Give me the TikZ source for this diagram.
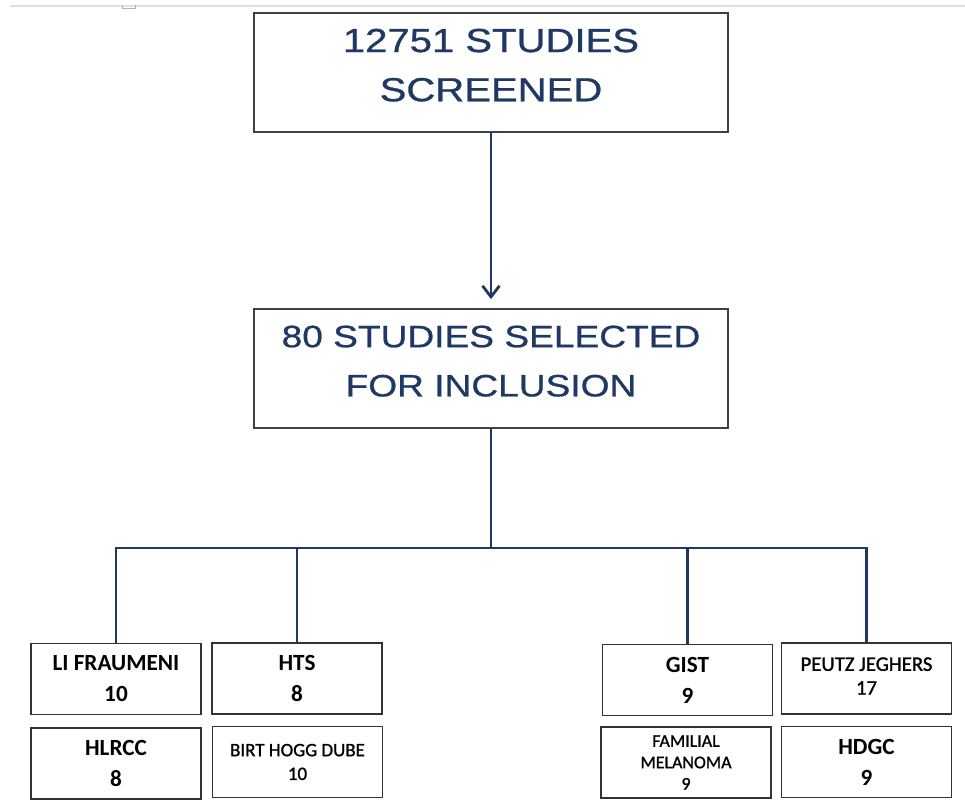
\documentclass[tikz,border=0pt]{standalone}
\usepackage{fontspec}
\setmainfont{Liberation Sans}
\newfontfamily\wideface[FakeStretch=1.2,FakeBold=0.8]{Liberation Sans}
\newfontfamily\calfont{Carlito}
\newfontfamily\calsemi[FakeBold=1.2]{Carlito}
\usetikzlibrary{arrows.meta}

\definecolor{navy}{RGB}{31,56,100}

\tikzset{
    bigbox/.style={draw=black!75, line width=1pt, minimum width=9.48cm, minimum height=2.38cm,
        align=center, text=navy, text depth=0.3cm, font=\wideface\fontsize{#1}{28}\selectfont},
    smallbox/.style={draw=black!80, line width=1pt, minimum width=3.4cm, minimum height=1.42cm,
        align=center, inner sep=0pt},
    boldtxt/.style={font=\calfont\bfseries\fontsize{13.2}{17.6}\selectfont},
    semitxt/.style={font=\calsemi\fontsize{#1}{13.5}\selectfont},
    tinytxt/.style={font=\calsemi\fontsize{10.2}{12.2}\selectfont},
    link/.style={draw=navy, line width=1.6pt}
}

\begin{document}
\begin{tikzpicture}

        \useasboundingbox (0,0) rectangle (19.3,-16);

        % page edge
        \draw [black!12, line width=1.2pt] (0.2,-0.12) -- (19.3,-0.12);
        \draw [black!30, line width=0.5pt] (2.44,-0.1) -- (2.44,-0.17) -- (2.7,-0.17) -- (2.7,-0.1);

        \node [bigbox=19] (screened) at (9.82,-1.45) {12751 STUDIES\\SCREENED};
        \node [bigbox=17.6] (selected) at (9.82,-7.37) {80 STUDIES SELECTED\\FOR INCLUSION};

        \node [smallbox, boldtxt] (lifr) at (2.32,-13.58) {LI FRAUMENI\\10};
        \node [smallbox, boldtxt] (hts) at (5.94,-13.57) {HTS\\8};
        \node [smallbox, boldtxt] (gist) at (13.75,-13.6) {GIST\\9};
        \node [smallbox, semitxt=11.8, text depth=0.1cm] (peutz) at (17.33,-13.57) {PEUTZ JEGHERS\\17};

        \node [smallbox, boldtxt] (hlrcc) at (2.32,-15.27) {HLRCC\\8};
        \node [smallbox, semitxt=10.8] (birt) at (5.95,-15.24) {BIRT HOGG DUBE\\10};
        \node [smallbox, tinytxt] (famil) at (13.72,-15.25) {FAMILIAL\\MELANOMA\\9};
        \node [smallbox, boldtxt] (hdgc) at (17.33,-15.24) {HDGC\\9};

        \coordinate (bus) at (9.82,-10.96);

        \draw [link, -{Straight Barb[length=2.2mm, width=3.4mm]}, shorten >=0.18cm] (screened) -- (selected);
        \draw [link] (selected) -- (bus);
        \draw [link] (lifr.north) -- (lifr.north |- bus) -- (peutz.north |- bus) -- (peutz.north);
        \draw [link] (hts.north) -- (hts.north |- bus);
        \draw [link] (gist.north) -- (gist.north |- bus);

    \end{tikzpicture}
\end{document}
